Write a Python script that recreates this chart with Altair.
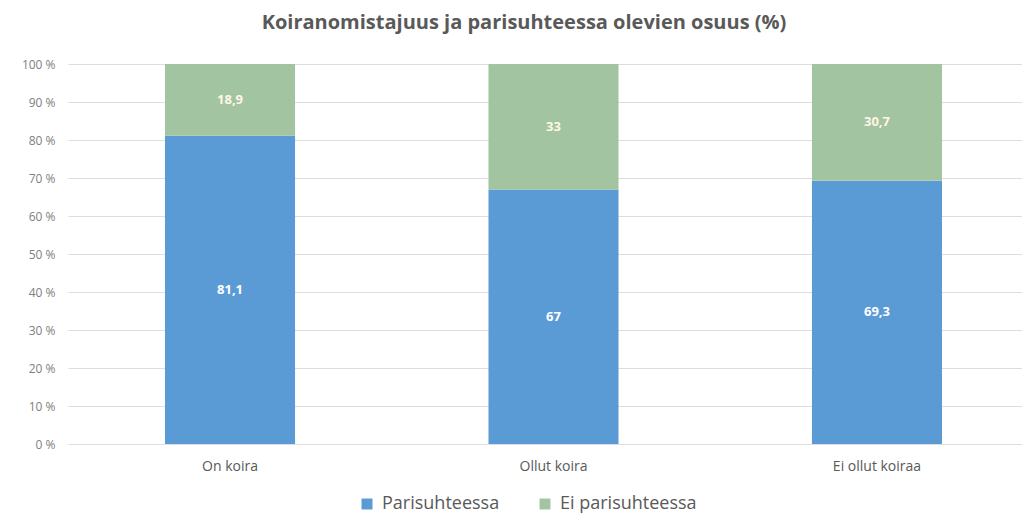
import altair as alt
import pandas as pd

categories = ["On koira", "Ollut koira", "Ei ollut koiraa"]
series = ["Parisuhteessa", "Ei parisuhteessa"]
parisuhteessa = [81.1, 67.0, 69.3]
ei_parisuhteessa = [18.9, 33.0, 30.7]
y_ticks = [0, 10, 20, 30, 40, 50, 60, 70, 80, 90, 100]
colors = ["#5B9BD5", "#A3C4A0"]
label_colors = ["#FFFFFF", "#FFF6E6"]

rows = []
for i, c in enumerate(categories):
    for s_i, (s, vals) in enumerate(zip(series, [parisuhteessa, ei_parisuhteessa])):
        v = vals[i]
        rows.append({
            "cat": c,
            "series": s,
            "value": v,
            "ord": s_i,
            "label": f"{v:g}".replace(".", ","),
        })
df = pd.DataFrame(rows)

FONT = "Open Sans"

x_axis = alt.Axis(labelAngle=0, ticks=False, domain=False, labelPadding=15,
                  labelFontSize=14, labelColor="#595959", labelFont=FONT, grid=False)
x_scale = alt.Scale(paddingInner=0.598, paddingOuter=0.2736, align=0.548)
y_scale = alt.Scale(domain=[0, 100], nice=False)
y_axis = alt.Axis(values=y_ticks, labelExpr="datum.value + ' %'", ticks=False,
                  domain=False, gridColor="#DDDDDD", labelPadding=13,
                  labelFontSize=12, labelColor="#808080", labelFont=FONT)

bars = alt.Chart(df).mark_bar().encode(
    x=alt.X("cat:N", sort=categories, title=None, scale=x_scale, axis=x_axis),
    y=alt.Y("value:Q", stack="zero", title=None, scale=y_scale, axis=y_axis),
    color=alt.Color(
        "series:N",
        sort=series,
        scale=alt.Scale(domain=series, range=colors),
        legend=alt.Legend(
            title=None, orient="none", direction="horizontal",
            legendX=290, legendY=431, symbolType="square", symbolSize=120,
            symbolStrokeWidth=0, labelFontSize=18, labelColor="#595959",
            labelFont=FONT, columnPadding=36, labelOffset=6,
        ),
    ),
    order=alt.Order("ord:Q"),
)

texts = alt.Chart(df).transform_stack(
    stack="value", groupby=["cat"], as_=["y0", "y1"],
    sort=[alt.SortField("ord", order="ascending")],
).transform_calculate(
    ymid="(datum.y0 + datum.y1) / 2"
).mark_text(fontWeight="bold", fontSize=13, font=FONT).encode(
    x=alt.X("cat:N", sort=categories, title=None, scale=x_scale, axis=x_axis),
    y=alt.Y("ymid:Q", title=None, scale=y_scale, axis=y_axis),
    text="label:N",
    color=alt.Color("series:N", scale=alt.Scale(domain=series, range=label_colors), legend=None),
)

chart = alt.layer(bars, texts).resolve_scale(color="independent").properties(
    width=954,
    height=380,
    autosize=alt.AutoSizeParams(type="none"),
    padding={"left": 60, "top": 56, "right": 0, "bottom": 70},
    title=alt.TitleParams(
        "Koiranomistajuus ja parisuhteessa olevien osuus (%)",
        anchor="middle", dx=-21, offset=25, fontSize=20, font=FONT,
        fontWeight="bold", color="#595959",
    ),
).configure_view(stroke=None)

chart.save("out.html", embed_options={"renderer": "svg", "actions": False})
